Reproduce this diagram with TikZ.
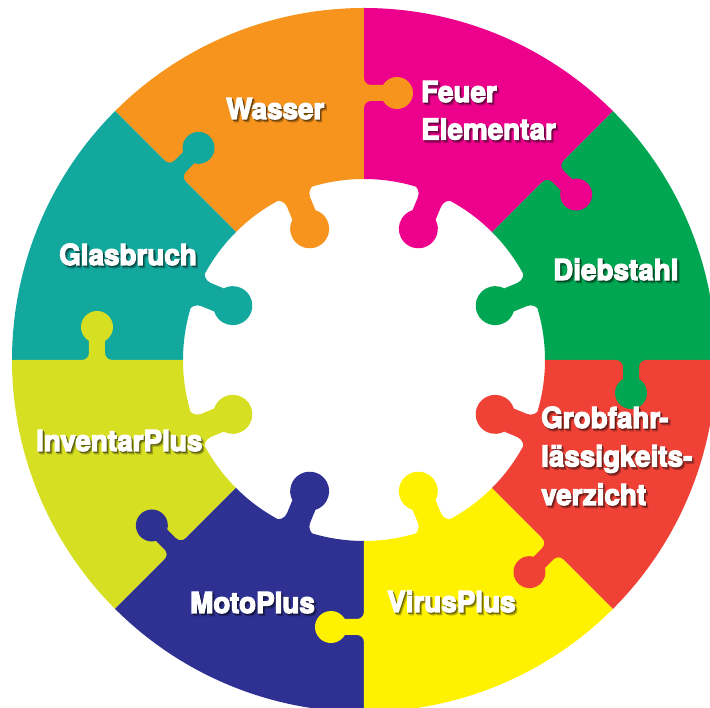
\documentclass[tikz,border=0pt]{standalone}
\usepackage{fontspec}
\newfontfamily\lblfont{TeX Gyre Heros}[FakeStretch=0.96,FakeBold=4]
\definecolor{cOrange}{HTML}{F7941D}
\definecolor{cMagenta}{HTML}{EC008C}
\definecolor{cGreen}{HTML}{00A651}
\definecolor{cRed}{HTML}{EF4136}
\definecolor{cYellow}{HTML}{FFF200}
\definecolor{cNavy}{HTML}{2E3192}
\definecolor{cLime}{HTML}{D7DF23}
\definecolor{cTeal}{HTML}{12A89D}
% puzzle tab: colour, neck half-width, fillet radius, head radius, head height
\newcommand\tabpath[5]{%
  \fill[#1] ({-#2-#3},-3) -- ({-#2-#3},0)
    arc[start angle=-90,end angle=0,radius=#3]
    -- ({-#2},{#5-sqrt(#4*#4-#2*#2)})
    arc[start angle={180+acos(#2/#4)}, end angle={-acos(#2/#4)}, radius=#4]
    -- (#2,#3)
    arc[start angle=180,end angle=270,radius=#3]
    -- ({#2+#3},-3) -- cycle;}
% label with drop shadow: name, position, background colour, text
\newcommand\plabel[4]{%
  \node[lbl] (#1) at (#2)
    {\rlap{\kern2.3pt\raisebox{-2.7pt}{\color{#3!72!black}#4}}%
     \rlap{\kern1.2pt\raisebox{-1.4pt}{\color{#3!45!black}#4}}#4};}
\begin{document}
\begin{tikzpicture}[x=1pt,y=1pt,
  lbl/.style={inner sep=0pt, anchor=base west, text=white,
    font=\lblfont\bfseries\fontsize{29}{34}\selectfont}]
\useasboundingbox (-364,-348) rectangle (346,360);
\clip (-364,-348) rectangle (346,360);
\fill[white] (-364,-348) rectangle (346,360);
\foreach \k/\c in {0/cGreen,1/cMagenta,2/cOrange,3/cTeal,4/cLime,5/cNavy,6/cYellow,7/cRed}{
  \pgfmathsetmacro\a{45*\k}
  \pgfmathsetmacro\b{45*\k+45}
  \fill[\c] (\a:352) arc[start angle=\a, end angle=\b, radius=352]
    -- (\b:181) arc[start angle=\b, end angle=\a, radius=181] -- cycle;
}
\foreach \k/\c in {0/cGreen,1/cMagenta,2/cOrange,3/cTeal,4/cLime,5/cNavy,6/cYellow,7/cRed}{
  \pgfmathsetmacro\a{45*\k}
  \begin{scope}[shift={(\a:267)}, rotate=\a-180]
    \tabpath{\c}{8}{7}{16}{33}
  \end{scope}
  \pgfmathsetmacro\m{45*\k+22.5}
  \begin{scope}[shift={(\m:181)}, rotate=\m+90]
    \tabpath{\c}{12.5}{10}{19.5}{39}
  \end{scope}
}
\plabel{wasser}{-138,241}{cOrange}{Wasser}
\plabel{feuerA}{57,258}{cMagenta}{Feuer}
\plabel{feuerB}{57,220.5}{cMagenta}{Elementar}
\plabel{dieb}{189,80}{cGreen}{Diebstahl}
\plabel{glas}{-305,95}{cTeal}{Glasbruch}
\plabel{invent}{-328,-91}{cLime}{InventarPlus}
\plabel{grobA}{177,-68}{cRed}{Grobfahr-}
\plabel{grobB}{177,-106.5}{cRed}{lässigkeits-}
\plabel{grobC}{177,-145}{cRed}{verzicht}
\plabel{moto}{-174,-253}{cNavy}{MotoPlus}
\plabel{virus}{23,-252}{cYellow}{VirusPlus}
\end{tikzpicture}
\end{document}
